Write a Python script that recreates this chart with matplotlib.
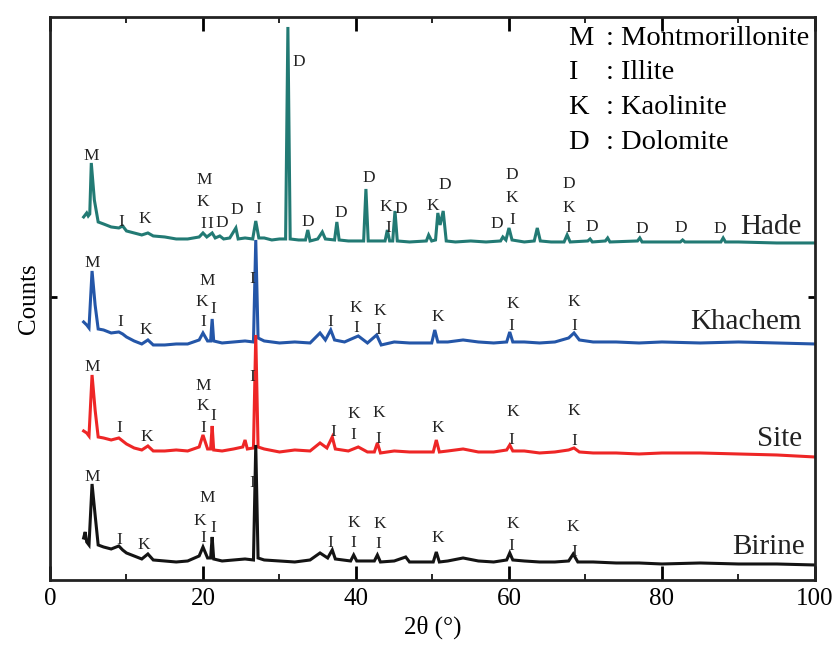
# XRD patterns of the four clay samples (Birine, Site, Khachem, Hade)

from matplotlib import pyplot as plt
from matplotlib.ticker import MultipleLocator

plt.rcParams['font.family'] = ['Liberation Serif', 'DejaVu Serif']

# Sample names, bottom trace first
samples = ['Birine', 'Site', 'Khachem', 'Hade']

# Points: 2-theta (deg) and counts (arbitrary units)
birine_2theta = [4.4, 4.6, 4.8, 5.1, 5.5, 5.9, 6.3, 7.0, 8.0, 9.0, 9.5, 10.0, 11.0, 12.0, 12.8, 13.5,
                 15.0, 16.5, 18.0, 19.5, 20.0, 20.6, 21.0, 21.2, 21.4, 22.5, 24.0, 25.5, 26.6, 26.9,
                 27.2, 28.0, 30.0, 32.0, 34.0, 35.3, 36.3, 36.9, 37.3, 39.3, 39.7, 40.1, 42.4, 42.8,
                 43.2, 45.0, 46.5, 47.0, 50.1, 50.5, 50.9, 52.0, 54.0, 56.0, 58.0, 59.7, 60.1, 60.5,
                 62.0, 64.0, 66.0, 67.8, 68.4, 69.0, 71.0, 74.0, 77.0, 80.0, 85.0, 90.0, 95.0, 100.0]
birine_counts = [42, 48, 38, 35, 96, 65, 35, 33, 31, 34, 30, 27, 24, 21, 26, 20,
                 19, 18, 19, 24, 33, 22, 22, 43, 21, 19, 20, 21, 20, 135,
                 22, 20, 19, 18, 20, 27, 22, 30, 21, 19, 25, 19, 19, 25,
                 18, 19, 23, 18, 18, 28, 18, 19, 22, 19, 18, 20, 27, 20,
                 19, 18, 18, 19, 26, 18, 18, 17, 17, 16, 17, 16, 16, 15]

site_2theta = [4.4, 4.8, 5.1, 5.5, 5.9, 6.3, 7.0, 8.0, 9.0, 9.5, 10.0, 11.0, 12.0, 12.8, 13.5,
               15.0, 16.5, 18.0, 19.5, 20.0, 20.6, 21.0, 21.2, 21.4, 22.5, 24.0, 25.2, 25.5, 25.8,
               26.6, 26.9, 27.2, 28.0, 30.0, 32.0, 34.0, 35.3, 36.2, 36.9, 37.3, 39.0, 40.3, 41.5,
               42.4, 42.8, 43.2, 45.0, 47.0, 50.1, 50.5, 50.9, 52.0, 54.0, 56.0, 58.0, 59.7, 60.1,
               60.5, 62.0, 64.0, 66.0, 67.8, 68.5, 69.2, 71.0, 74.0, 77.0, 80.0, 85.0, 90.0, 95.0, 100.0]
site_counts = [39, 37, 34, 95, 60, 33, 32, 30, 32, 29, 26, 22, 20, 24, 19,
               19, 20, 19, 23, 35, 21, 21, 44, 20, 19, 21, 23, 30, 21,
               22, 135, 23, 21, 18, 20, 19, 27, 22, 33, 21, 19, 23, 18,
               18, 27, 17, 19, 18, 18, 30, 18, 19, 21, 18, 18, 20, 25,
               19, 19, 17, 18, 20, 22, 18, 17, 17, 16, 17, 17, 16, 15, 13]

khachem_2theta = [4.4, 4.8, 5.1, 5.5, 5.9, 6.3, 7.0, 8.0, 9.0, 9.5, 10.0, 11.0, 12.0, 12.8, 13.5,
                  15.0, 16.5, 18.0, 19.5, 20.0, 20.6, 21.0, 21.2, 21.4, 22.5, 24.0, 25.5, 26.6, 26.9,
                  27.2, 28.0, 30.0, 32.0, 34.0, 35.3, 36.0, 36.7, 37.2, 38.5, 40.3, 41.5, 42.7, 43.3,
                  45.0, 47.0, 49.9, 50.3, 50.7, 52.0, 54.0, 56.0, 58.0, 59.7, 60.1, 60.5, 62.0, 64.0,
                  66.0, 67.8, 68.5, 69.2, 71.0, 74.0, 77.0, 80.0, 85.0, 90.0, 95.0, 100.0]
khachem_counts = [38, 35, 32, 89, 55, 31, 30, 27, 28, 26, 23, 19, 16, 20, 15,
                  15, 16, 16, 20, 27, 19, 19, 41, 19, 17, 18, 19, 18, 120,
                  22, 19, 17, 18, 17, 27, 20, 30, 20, 18, 24, 17, 25, 15,
                  18, 17, 17, 30, 18, 18, 20, 18, 17, 18, 28, 18, 18, 17,
                  18, 22, 27, 20, 18, 18, 17, 18, 17, 18, 17, 16]

hade_2theta = [4.4, 4.8, 5.0, 5.2, 5.4, 5.8, 6.3, 7.0, 8.0, 9.0, 9.5, 10.0, 11.0, 12.0, 12.8, 13.5,
               15.0, 16.5, 18.0, 19.5, 20.0, 20.5, 21.2, 21.6, 22.2, 22.7, 23.5, 24.3, 24.6, 25.5,
               26.5, 26.9, 27.3, 28.0, 29.0, 30.0, 30.8, 31.1, 31.4, 32.5, 33.4, 33.7, 34.0, 35.0,
               35.6, 36.0, 37.2, 37.5, 37.8, 39.0, 41.0, 41.3, 41.6, 43.8, 44.1, 44.4, 44.8, 45.1,
               45.4, 47.0, 49.2, 49.5, 49.9, 50.4, 50.7, 51.0, 51.4, 51.8, 53.0, 55.0, 57.0, 58.9,
               59.2, 59.6, 60.0, 60.4, 62.0, 63.3, 63.7, 64.1, 65.5, 67.2, 67.6, 68.0, 70.3, 70.6,
               70.9, 72.6, 72.9, 73.2, 76.8, 77.1, 77.4, 80.0, 82.4, 82.7, 83.0, 85.0, 87.7, 88.0,
               88.3, 90.0, 95.0, 100.0]
hade_counts = [33, 37, 34, 36, 87, 50, 28, 26, 23, 22, 24, 19, 17, 15, 17, 14,
               13, 11, 11, 13, 17, 13, 17, 12, 14, 11, 12, 22, 11, 12,
               11, 29, 12, 12, 10, 11, 11, 223, 11, 10, 10, 20, 9, 11,
               18, 11, 10, 28, 10, 9, 9, 61, 9, 9, 20, 9, 9, 39,
               9, 8, 9, 15, 9, 10, 37, 25, 39, 9, 8, 9, 8, 9,
               13, 10, 22, 10, 8, 9, 22, 9, 8, 8, 15, 8, 9, 11,
               8, 9, 12, 8, 9, 12, 8, 8, 8, 10, 8, 8, 8, 12,
               8, 8, 7, 7]

# Phase letters over the peaks: (letter, 2-theta, height on the plot)
birine_marks = [('M', 5.5, 103), ('I', 9.0, 40), ('K', 12.3, 35), ('M', 20.5, 82), ('K', 19.6, 59),
                ('I', 21.3, 52), ('I', 20.0, 42), ('I', 26.4, 97), ('I', 36.7, 37), ('K', 39.7, 57),
                ('I', 39.7, 37), ('K', 43.1, 56), ('I', 42.9, 36), ('K', 50.7, 42), ('K', 60.5, 56),
                ('I', 60.3, 34), ('K', 68.4, 53), ('I', 68.6, 28)]
site_marks = [('M', 5.5, 213), ('I', 9.0, 152), ('K', 12.7, 143), ('M', 20.0, 194), ('K', 20.0, 174),
              ('I', 21.3, 164), ('I', 20.0, 152), ('I', 26.5, 203), ('I', 37.0, 148), ('K', 39.7, 166),
              ('I', 39.7, 145), ('K', 43.0, 167), ('I', 42.9, 141), ('K', 50.7, 152), ('K', 60.5, 168),
              ('I', 60.3, 140), ('K', 68.5, 169), ('I', 68.6, 139)]
khachem_marks = [('M', 5.5, 317), ('I', 9.15, 258), ('K', 12.5, 250), ('M', 20.5, 299), ('K', 19.9, 278),
                 ('I', 21.3, 271), ('I', 20.0, 258), ('I', 26.4, 301), ('I', 36.7, 258), ('K', 40.0, 272),
                 ('I', 40.0, 252), ('K', 43.1, 269), ('I', 42.9, 250), ('K', 50.7, 263), ('K', 60.5, 276),
                 ('I', 60.3, 254), ('K', 68.5, 278), ('I', 68.6, 254)]
hade_marks = [('M', 5.36, 424), ('I', 9.28, 358), ('K', 12.4, 361), ('M', 20.1, 400), ('K', 20.0, 378),
              ('I', 20.1, 356), ('I', 20.9, 356), ('D', 22.4, 357), ('D', 24.4, 370), ('I', 27.2, 371),
              ('D', 32.5, 518), ('D', 33.7, 358), ('D', 38.0, 367), ('D', 41.7, 402), ('K', 43.9, 373),
              ('I', 44.2, 352), ('D', 45.9, 371), ('K', 50.1, 374), ('D', 51.6, 395), ('D', 58.4, 356),
              ('D', 60.4, 405), ('K', 60.4, 382), ('I', 60.4, 360), ('D', 67.8, 396), ('K', 67.8, 372),
              ('I', 67.7, 352), ('D', 70.8, 353), ('D', 77.3, 351), ('D', 82.4, 352), ('D', 87.5, 351)]

# Legend of phases
phase_letters = ['M', 'I', 'K', 'D']
phase_names = [': Montmorillonite', ': Illite', ': Kaolinite', ': Dolomite']

patterns = [(birine_2theta, birine_counts), (site_2theta, site_counts),
            (khachem_2theta, khachem_counts), (hade_2theta, hade_counts)]
marks = [birine_marks, site_marks, khachem_marks, hade_marks]

# vertical shift of each pattern and where its name goes (right edge)
offsets = [0, 110, 220, 330]
name_pos = [(98.7, 33), (98.3, 141), (98.3, 258), (98.3, 353)]
colors = ['#141414', '#ee2626', '#2456a8', '#227a74']

fig = plt.figure(figsize=(8.4, 6.45), dpi=100)
ax = fig.add_axes([0.0595, 0.1008, 0.9107, 0.8729])

# Hade drawn first so the lower patterns sit on top of it
for i in [3, 2, 1, 0]:
    x, y = patterns[i]
    ax.plot(x, [v + offsets[i] for v in y], color=colors[i], lw=2.2, solid_joinstyle='miter')
    for letter, px, py in marks[i]:
        ax.text(px, py, letter, fontsize=12.5, ha='center', va='center', color='#222222')
    ax.text(name_pos[i][0], name_pos[i][1], samples[i], fontsize=21, ha='right', va='center',
            color='#222222')

# phase legend in the upper right corner
for k in range(len(phase_letters)):
    yy = 0.962 - k * 0.0615
    ax.text(0.677, yy, phase_letters[k], transform=ax.transAxes, fontsize=20.5, ha='left', va='center')
    ax.text(0.727, yy, phase_names[k], transform=ax.transAxes, fontsize=20.5,
            ha='left', va='center')

ax.set_xlim(0, 100)
ax.set_ylim(0, 563)
ax.xaxis.set_major_locator(MultipleLocator(20))
ax.xaxis.set_minor_locator(MultipleLocator(10))
ax.set_yticks([283])
ax.set_yticklabels([])
ax.tick_params(axis='x', which='major', direction='in', length=10, width=2, top=True, labelsize=18, pad=6)
ax.tick_params(axis='x', which='minor', direction='in', length=4, width=1.2, top=True)
ax.tick_params(axis='y', direction='in', length=5, width=2, right=True)
for s in ax.spines.values():
    s.set_linewidth(2)
    s.set_color('#222222')

ax.set_xlabel('2θ (°)', fontsize=18, labelpad=4)
ax.set_ylabel('Counts', fontsize=18, labelpad=4)

plt.savefig('out.png', dpi=100)
